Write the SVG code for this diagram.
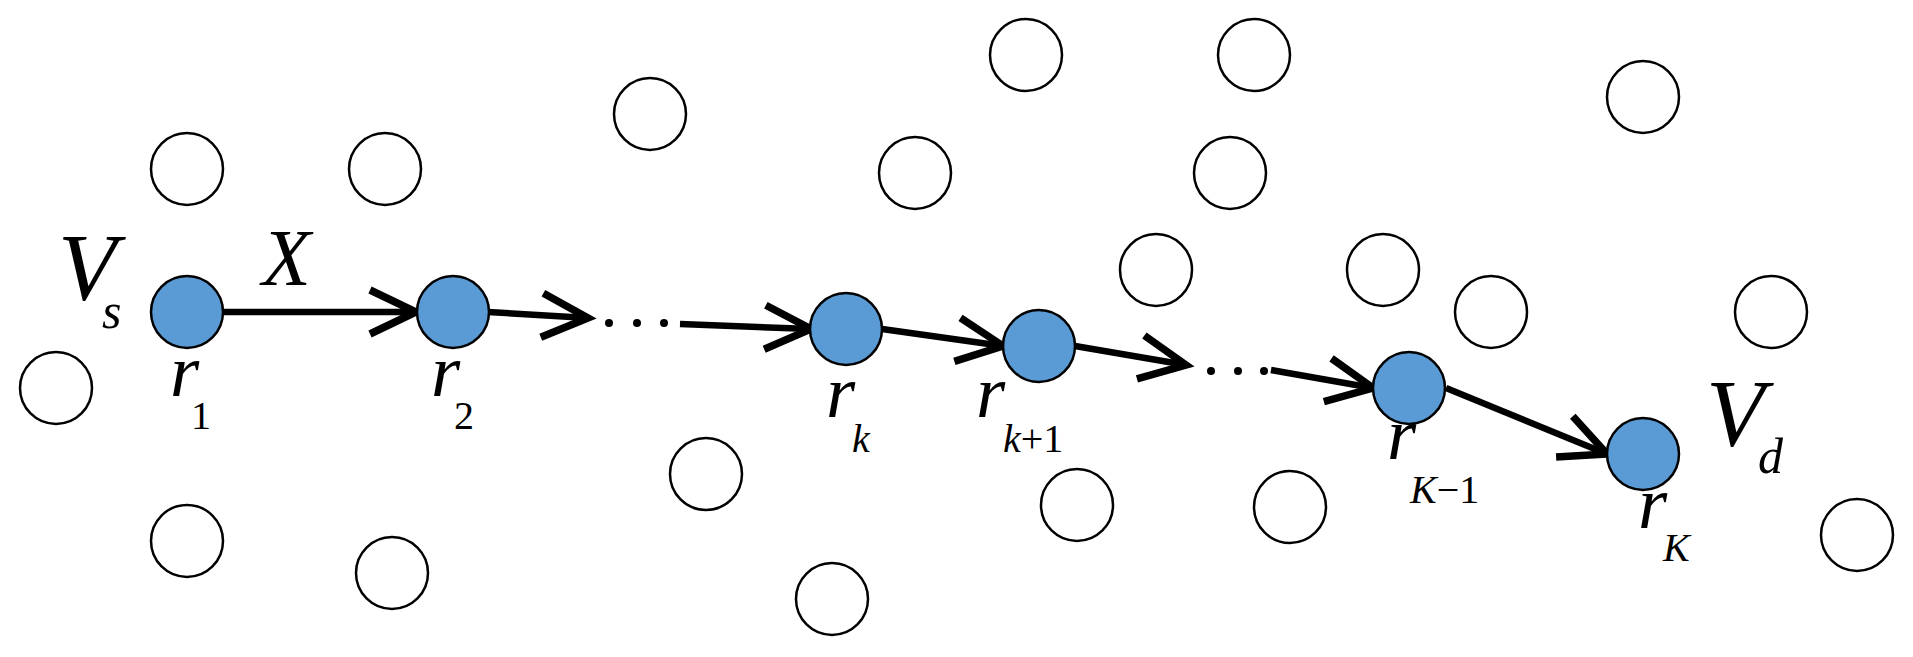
<svg xmlns="http://www.w3.org/2000/svg" width="1913" height="657" viewBox="0 0 1913 657">
<style>
.e{fill:#fff;stroke:#000;stroke-width:2.5}
.b{fill:#5b9bd5;stroke:#000;stroke-width:2.5}
.c{stroke:#000;stroke-width:6.5;fill:none;marker-end:url(#a)}
.t{font-family:'Liberation Serif','DejaVu Serif',serif;font-style:italic;fill:#000}
.s{font-family:'Liberation Serif','DejaVu Serif',serif;fill:#000}
</style>
<defs>
<marker id="a" markerUnits="userSpaceOnUse" markerWidth="60" markerHeight="60" refX="50" refY="25" orient="auto" viewBox="0 0 60 50">
<path d="M4,3 L50,25 L4,47" fill="none" stroke="#000" stroke-width="7.5"/>
</marker>
</defs>
<rect width="1913" height="657" fill="#fff"/>
<g id="others">
<circle class="e" cx="56" cy="388" r="36"/>
<circle class="e" cx="187" cy="169" r="36"/>
<circle class="e" cx="385" cy="169" r="36"/>
<circle class="e" cx="650" cy="114" r="36"/>
<circle class="e" cx="915" cy="173" r="36"/>
<circle class="e" cx="706" cy="474" r="36"/>
<circle class="e" cx="187" cy="541" r="36"/>
<circle class="e" cx="392" cy="573" r="36"/>
<circle class="e" cx="832" cy="599" r="36"/>
<circle class="e" cx="1026" cy="55" r="36"/>
<circle class="e" cx="1254" cy="55" r="36"/>
<circle class="e" cx="1643" cy="97" r="36"/>
<circle class="e" cx="1230" cy="173" r="36"/>
<circle class="e" cx="1156" cy="270" r="36"/>
<circle class="e" cx="1383" cy="270" r="36"/>
<circle class="e" cx="1491" cy="312" r="36"/>
<circle class="e" cx="1771" cy="312" r="36"/>
<circle class="e" cx="1077" cy="505" r="36"/>
<circle class="e" cx="1290" cy="507" r="36"/>
<circle class="e" cx="1857" cy="535" r="36"/>
</g>
<g id="connectors">
<line class="c" x1="223" y1="312" x2="416" y2="312"/>
<line class="c" x1="488" y1="312" x2="588" y2="318"/>
<line class="c" x1="680" y1="324" x2="811" y2="329"/>
<line class="c" x1="882" y1="329" x2="1003" y2="346"/>
<line class="c" x1="1075" y1="346" x2="1186" y2="365"/>
<line class="c" x1="1271" y1="370" x2="1373" y2="388"/>
<line class="c" x1="1446" y1="388" x2="1607" y2="454"/>
<circle cx="609" cy="323" r="4"/><circle cx="637" cy="323" r="4"/><circle cx="664" cy="323" r="4"/>
<circle cx="1211" cy="371" r="4"/><circle cx="1238" cy="371" r="4"/><circle cx="1264" cy="371" r="4"/>
<text class="t" x="262" y="285" font-size="80">X</text>
</g>
<g id="r1"><circle class="b" cx="187" cy="312" r="36"/><text class="t" x="170" y="396" font-size="75">r</text><text class="s" x="191" y="429" font-size="40">1</text></g>
<g id="r2"><circle class="b" cx="453" cy="312" r="36"/><text class="t" x="431" y="396" font-size="75">r</text><text class="s" x="454" y="429" font-size="40">2</text></g>
<g id="rk"><circle class="b" cx="846" cy="329" r="36"/><text class="t" x="826" y="417" font-size="75">r</text><text class="t" x="852" y="452" font-size="40">k</text></g>
<g id="rk1"><circle class="b" cx="1039" cy="346" r="36"/><text class="t" x="976" y="417" font-size="75">r</text><text class="t" x="1003" y="452" font-size="40">k<tspan font-style="normal">+1</tspan></text></g>
<g id="rKm1"><circle class="b" cx="1409" cy="388" r="36"/><text class="t" x="1387" y="459" font-size="75">r</text><text class="t" x="1410" y="503" font-size="40">K<tspan font-style="normal">−1</tspan></text></g>
<g id="rK"><circle class="b" cx="1643" cy="454" r="36"/><text class="t" x="1638" y="528" font-size="75">r</text><text class="t" x="1663" y="561" font-size="40">K</text></g>
<g id="Vs"><text class="t" x="58" y="300" font-size="96">V</text><text class="t" x="102" y="328" font-size="50">s</text></g>
<g id="Vd"><text class="t" x="1706" y="446" font-size="96">V</text><text class="t" x="1758" y="473" font-size="50">d</text></g>
</svg>
